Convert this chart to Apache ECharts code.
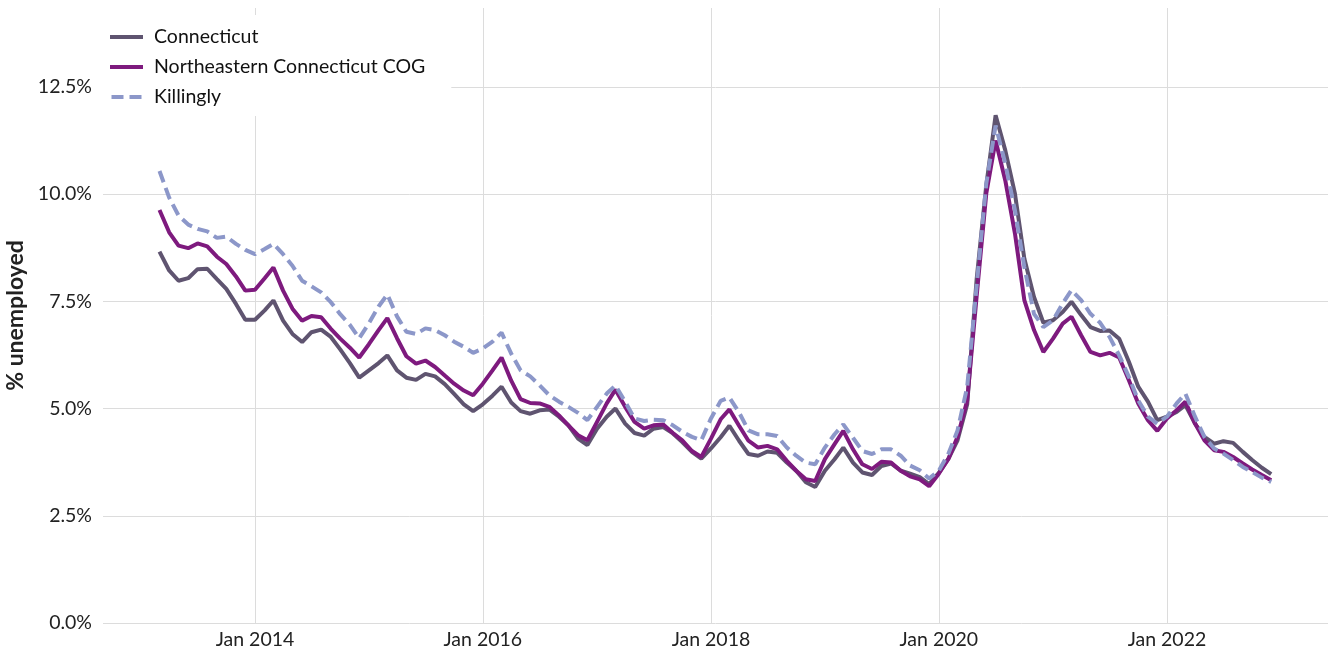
<!DOCTYPE html>
<html>
<head>
<meta charset="utf-8">
<script src="https://cdn.jsdelivr.net/npm/echarts@6/dist/echarts.min.js"></script>
<style>
  html, body { margin: 0; padding: 0; background: #fff; }
  #chart { width: 1328px; height: 654px; }
</style>
</head>
<body>
<div id="chart"></div>
<script>
// monthly values, Mar 2013 .. Dec 2022
const firstMonth = [2013, 3];
const monthCount = 118;

const connecticut = [
  8.66, 8.22, 7.98, 8.04, 8.25, 8.26, 8.02, 7.79, 7.44, 7.07,
  7.07, 7.29, 7.52, 7.05, 6.74, 6.55, 6.78, 6.84, 6.67, 6.38, 6.06, 5.72,
  5.89, 6.06, 6.24, 5.89, 5.72, 5.67, 5.81, 5.75, 5.57, 5.34, 5.10, 4.94,
  5.10, 5.30, 5.51, 5.14, 4.94, 4.88, 4.96, 4.98, 4.81, 4.61, 4.30, 4.15,
  4.53, 4.81, 5.00, 4.65, 4.43, 4.37, 4.53, 4.57, 4.42, 4.22, 3.99, 3.83,
  4.07, 4.33, 4.60, 4.25, 3.94, 3.90, 4.00, 3.97, 3.74, 3.55, 3.28, 3.17,
  3.55, 3.82, 4.09, 3.74, 3.51, 3.45, 3.66, 3.72, 3.55, 3.48, 3.40, 3.24,
  3.50, 3.83, 4.26, 5.10, 8.00, 10.20, 11.84, 11.02, 10.01, 8.50, 7.60, 7.00,
  7.06, 7.25, 7.49, 7.18, 6.90, 6.81, 6.82, 6.63, 6.09, 5.51, 5.16, 4.73,
  4.81, 4.92, 5.08, 4.65, 4.34, 4.18, 4.24, 4.20, 3.99, 3.80, 3.62, 3.47
];

const northeasternCog = [
  9.63, 9.11, 8.80, 8.74, 8.85, 8.78, 8.54, 8.37, 8.08, 7.75,
  7.77, 8.04, 8.29, 7.75, 7.33, 7.05, 7.16, 7.13, 6.86, 6.63, 6.42, 6.19,
  6.50, 6.83, 7.11, 6.64, 6.22, 6.05, 6.12, 5.97, 5.77, 5.58, 5.42, 5.31,
  5.58, 5.89, 6.19, 5.65, 5.22, 5.13, 5.12, 5.04, 4.84, 4.61, 4.38, 4.26,
  4.69, 5.12, 5.44, 5.04, 4.69, 4.53, 4.61, 4.63, 4.43, 4.26, 4.01, 3.87,
  4.30, 4.75, 4.98, 4.60, 4.25, 4.09, 4.13, 4.05, 3.78, 3.55, 3.35, 3.31,
  3.82, 4.17, 4.48, 4.05, 3.70, 3.59, 3.76, 3.74, 3.55, 3.42, 3.35, 3.19,
  3.48, 3.83, 4.34, 5.19, 7.60, 10.01, 11.25, 10.32, 9.08, 7.53, 6.83, 6.32,
  6.63, 6.98, 7.14, 6.71, 6.32, 6.24, 6.30, 6.19, 5.66, 5.12, 4.73, 4.48,
  4.77, 4.96, 5.16, 4.65, 4.26, 4.03, 3.99, 3.87, 3.72, 3.58, 3.45, 3.33
];

const killingly = [
  10.54, 9.92, 9.50, 9.29, 9.19, 9.13, 8.98, 9.01, 8.84, 8.70,
  8.60, 8.72, 8.84, 8.60, 8.33, 7.98, 7.85, 7.71, 7.48, 7.20, 6.95, 6.64,
  6.99, 7.38, 7.66, 7.15, 6.79, 6.74, 6.87, 6.83, 6.71, 6.56, 6.44, 6.30,
  6.40, 6.56, 6.77, 6.28, 5.89, 5.75, 5.54, 5.31, 5.16, 5.04, 4.90, 4.73,
  5.04, 5.35, 5.54, 5.16, 4.77, 4.71, 4.74, 4.73, 4.61, 4.46, 4.34, 4.26,
  4.77, 5.18, 5.26, 4.91, 4.49, 4.40, 4.40, 4.36, 4.09, 3.90, 3.74, 3.70,
  4.09, 4.40, 4.63, 4.32, 4.01, 3.94, 4.05, 4.05, 3.90, 3.67, 3.56, 3.37,
  3.55, 3.95, 4.49, 5.51, 7.84, 10.24, 11.60, 10.71, 9.62, 8.30, 7.21, 6.90,
  7.06, 7.45, 7.76, 7.53, 7.21, 7.00, 6.67, 6.24, 5.74, 5.19, 4.81, 4.65,
  4.81, 5.12, 5.35, 4.81, 4.34, 4.07, 3.95, 3.80, 3.64, 3.52, 3.39, 3.29
];

const xTicks = ["2014-01-01", "2016-01-01", "2018-01-01", "2020-01-01", "2022-01-01"];
const yTicks = [0, 2.5, 5, 7.5, 10, 12.5];
const seriesNames = ["Connecticut", "Northeastern Connecticut COG", "Killingly"];
const seriesColors = ["#5f5470", "#7e1a7e", "#8c97c9"];

const monthNames = ["Jan", "Feb", "Mar", "Apr", "May", "Jun", "Jul", "Aug", "Sep", "Oct", "Nov", "Dec"];
const FONT = "Lato";
const SOLID_ICON = "rect";
const DASH_ICON = "path://M0,0h12v4h-12z M18,0h12v4h-12z";

let months = [];
for (let i = 0; i < monthCount; i++) {
  let d = new Date(firstMonth[0], firstMonth[1] - 1 + i, 1);
  months.push(d.getTime());
}
const pair = (arr) => arr.map((v, i) => [months[i], v]);
const tickTimes = xTicks.map((s) => {
  let p = s.split("-");
  return new Date(+p[0], +p[1] - 1, +p[2]).getTime();
});

let myChart = echarts.init(document.getElementById("chart"));

let option = {
  animation: false,
  textStyle: { fontFamily: FONT },
  grid: { left: 103, right: 0, top: 8, bottom: 31, outerBoundsMode: "none" },
  legend: {
    orient: "vertical",
    left: 100,
    top: 15,
    data: [
      { name: seriesNames[0], icon: SOLID_ICON },
      { name: seriesNames[1], icon: SOLID_ICON },
      { name: seriesNames[2], icon: DASH_ICON },
    ],
    itemWidth: 33,
    itemHeight: 4,
    itemGap: 10,
    padding: [12, 26, 9, 10],
    backgroundColor: "#ffffff",
    textStyle: { fontFamily: FONT, fontSize: 19.5, color: "#111", lineHeight: 20, padding: [0, 0, 0, 6] },
  },
  xAxis: {
    type: "value",
    min: new Date(2012, 8, 1).getTime(),
    max: new Date(2023, 5, 1).getTime(),
    axisLine: { show: false },
    axisTick: { show: false, customValues: tickTimes },
    axisLabel: {
      customValues: tickTimes,
      fontSize: 19.5,
      color: "#222",
      margin: 7,
      formatter: function (value) {
        let d = new Date(value);
        return monthNames[d.getMonth()] + " " + d.getFullYear();
      },
    },
    splitLine: { show: true, lineStyle: { color: "#dcdcdc", width: 1 } },
  },
  yAxis: {
    type: "value",
    min: 0,
    max: 14.34,
    interval: 2.5,
    name: "% unemployed",
    nameLocation: "middle",
    nameGap: 73,
    nameTextStyle: { fontFamily: FONT, fontSize: 23, fontWeight: "bold", color: "#222" },
    axisLine: { show: false },
    axisTick: { show: false },
    axisLabel: {
      fontSize: 19.5,
      color: "#222",
      margin: 11,
      showMaxLabel: false,
      formatter: function (v) {
        return yTicks.indexOf(v) >= 0 ? v.toFixed(1) + "%" : "";
      },
    },
    splitLine: { show: true, showMaxLine: false, lineStyle: { color: "#dcdcdc", width: 1 } },
  },
  series: [
    {
      name: seriesNames[0],
      type: "line",
      symbol: "none",
      data: pair(connecticut),
      lineStyle: { color: seriesColors[0], width: 4 },
      itemStyle: { color: seriesColors[0] },
      z: 2,
    },
    {
      name: seriesNames[1],
      type: "line",
      symbol: "none",
      data: pair(northeasternCog),
      lineStyle: { color: seriesColors[1], width: 4 },
      itemStyle: { color: seriesColors[1] },
      z: 3,
    },
    {
      name: seriesNames[2],
      type: "line",
      symbol: "none",
      data: pair(killingly),
      lineStyle: { color: seriesColors[2], width: 4, type: [12, 6] },
      itemStyle: { color: seriesColors[2] },
      z: 4,
    },
  ],
};
myChart.setOption(option);
</script>
</body>
</html>
